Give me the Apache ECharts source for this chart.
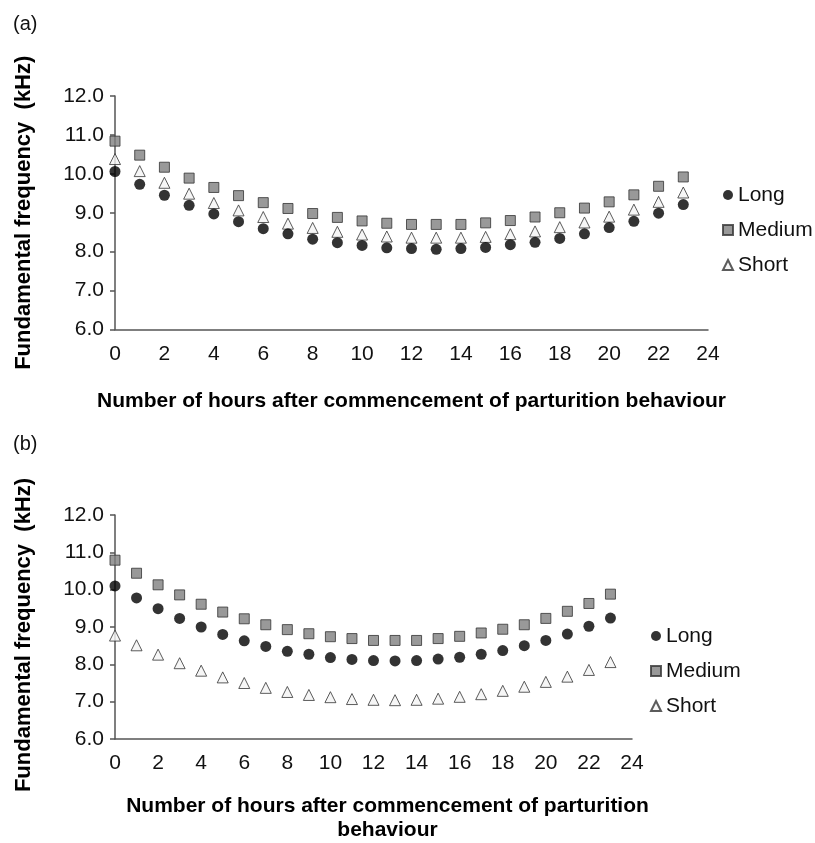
<!DOCTYPE html>
<html>
<head>
<meta charset="utf-8">
<script src="https://cdn.jsdelivr.net/npm/echarts@6/dist/echarts.min.js"></script>
<style>
html,body{margin:0;padding:0;background:#fff;}
#chart{width:815px;height:843px;}
</style>
</head>
<body>
<div id="chart"></div>
<script>
const hours = [0,1,2,3,4,5,6,7,8,9,10,11,12,13,14,15,16,17,18,19,20,21,22,23];
const xTicks = [0,2,4,6,8,10,12,14,16,18,20,22,24];
const yTicks = [6.0,7.0,8.0,9.0,10.0,11.0,12.0];
const seriesNames = ['Long','Medium','Short'];

// Panel (a)
const aLong   = [10.06,9.73,9.45,9.19,8.97,8.77,8.59,8.46,8.32,8.23,8.16,8.10,8.08,8.06,8.08,8.11,8.18,8.24,8.34,8.46,8.62,8.78,8.99,9.21];
const aMedium = [10.84,10.48,10.17,9.89,9.65,9.44,9.26,9.11,8.98,8.88,8.79,8.73,8.70,8.70,8.70,8.74,8.80,8.89,9.00,9.12,9.28,9.46,9.68,9.92];
const aShort  = [10.38,10.07,9.77,9.49,9.25,9.06,8.89,8.72,8.61,8.51,8.44,8.39,8.36,8.36,8.36,8.38,8.45,8.52,8.63,8.75,8.90,9.08,9.28,9.52];

// Panel (b)
const bLong   = [10.10,9.78,9.49,9.23,9.00,8.80,8.63,8.48,8.35,8.27,8.18,8.13,8.10,8.09,8.10,8.14,8.19,8.27,8.37,8.50,8.64,8.81,9.02,9.24];
const bMedium = [10.79,10.44,10.13,9.86,9.61,9.40,9.22,9.06,8.93,8.82,8.74,8.69,8.64,8.64,8.64,8.69,8.75,8.84,8.94,9.06,9.23,9.42,9.63,9.88];
const bShort  = [8.77,8.51,8.26,8.03,7.83,7.65,7.50,7.37,7.26,7.18,7.12,7.07,7.05,7.04,7.05,7.08,7.13,7.20,7.29,7.40,7.53,7.67,7.85,8.06];

const panelLabels = ['(a)','(b)'];
const xName = 'Number of hours after commencement of parturition behaviour';
const xNameB = 'Number of hours after commencement of parturition\nbehaviour';
const yName = 'Fundamental frequency  (kHz)';

const FONT = "'Liberation Sans', Arial, Helvetica, sans-serif";
const AX = '#555555';

function pairs(vals){ return hours.map((h,i)=>[h, vals[i]]); }

const styles = {
  Long:   {symbol:'circle',   symbolSize:11, itemStyle:{color:'#000000', borderColor:'#000000', borderWidth:0}},
  Medium: {symbol:'rect',     symbolSize:10, itemStyle:{color:'#7f7f7f', borderColor:'#333333', borderWidth:1}},
  Short:  {symbol:'triangle', symbolSize:11, itemStyle:{color:'#f4f4f4', borderColor:'#333333', borderWidth:1}}
};

function mkSeries(name, vals, idx){
  const s = styles[name];
  return {
    type:'scatter', name:name, xAxisIndex:idx, yAxisIndex:idx,
    data:pairs(vals), symbol:s.symbol, symbolSize:s.symbolSize,
    itemStyle:s.itemStyle, emphasis:{disabled:true}, z:name==='Long'?3:2
  };
}

function xAxis(idx, name, gap, pad){
  return {
    type:'value', gridIndex:idx, min:xTicks[0], max:xTicks[xTicks.length-1], interval:2,
    name:name, nameLocation:'middle', nameGap:gap,
    nameTextStyle:{fontFamily:FONT, fontWeight:'bold', fontSize:21, color:'#000', lineHeight:24, padding:pad},
    axisLine:{show:true, lineStyle:{color:AX, width:1.5}},
    axisTick:{show:false}, splitLine:{show:false},
    axisLabel:{fontFamily:FONT, fontSize:21, color:'#111', margin:14}
  };
}
function yAxis(idx, pad){
  return {
    type:'value', gridIndex:idx, min:yTicks[0], max:yTicks[yTicks.length-1], interval:1,
    name:yName, nameLocation:'middle', nameGap:80, nameRotate:90,
    nameTextStyle:{fontFamily:FONT, fontWeight:'bold', fontSize:22, color:'#000', padding:pad},
    axisLine:{show:true, lineStyle:{color:AX, width:1.5}},
    axisTick:{show:true, length:5, lineStyle:{color:AX, width:1.5}},
    splitLine:{show:false},
    axisLabel:{fontFamily:FONT, fontSize:21, color:'#111', margin:11, formatter:v=>v.toFixed(1)}
  };
}
function legend(left, top){
  return {
    orient:'vertical', left:left, top:top, padding:0, itemGap:14,
    itemWidth:10, itemHeight:10, selectedMode:false,
    textStyle:{fontFamily:FONT, fontSize:21, color:'#111', lineHeight:21},
    data:[{name:'Long',icon:'circle'},{name:'Medium',icon:'rect'},{name:'Short',icon:'triangle'}]
  };
}

const chart = echarts.init(document.getElementById('chart'), null, {renderer:'canvas'});
chart.setOption({
  animation:false,
  backgroundColor:'#ffffff',
  title:[
    {text:panelLabels[0], left:8, top:9, textStyle:{fontFamily:FONT, fontSize:20, fontWeight:'normal', color:'#111'}},
    {text:panelLabels[1], left:8, top:429, textStyle:{fontFamily:FONT, fontSize:20, fontWeight:'normal', color:'#111'}}
  ],
  grid:[
    {left:115, top:96, width:593, height:233.5},
    {left:115, top:515, width:517, height:224.5}
  ],
  xAxis:[xAxis(0, xName, 60, [0,0,0,0]), xAxis(1, xNameB, 55, [0,0,0,28])],
  yAxis:[yAxis(0,[0,0,0,0]), yAxis(1,[0,16,0,0])],
  legend:[legend(722, 184.5), legend(650, 625.5)],
  series:[
    mkSeries('Long', aLong, 0), mkSeries('Medium', aMedium, 0), mkSeries('Short', aShort, 0),
    mkSeries('Long', bLong, 1), mkSeries('Medium', bMedium, 1), mkSeries('Short', bShort, 1)
  ]
});
</script>
</body>
</html>
